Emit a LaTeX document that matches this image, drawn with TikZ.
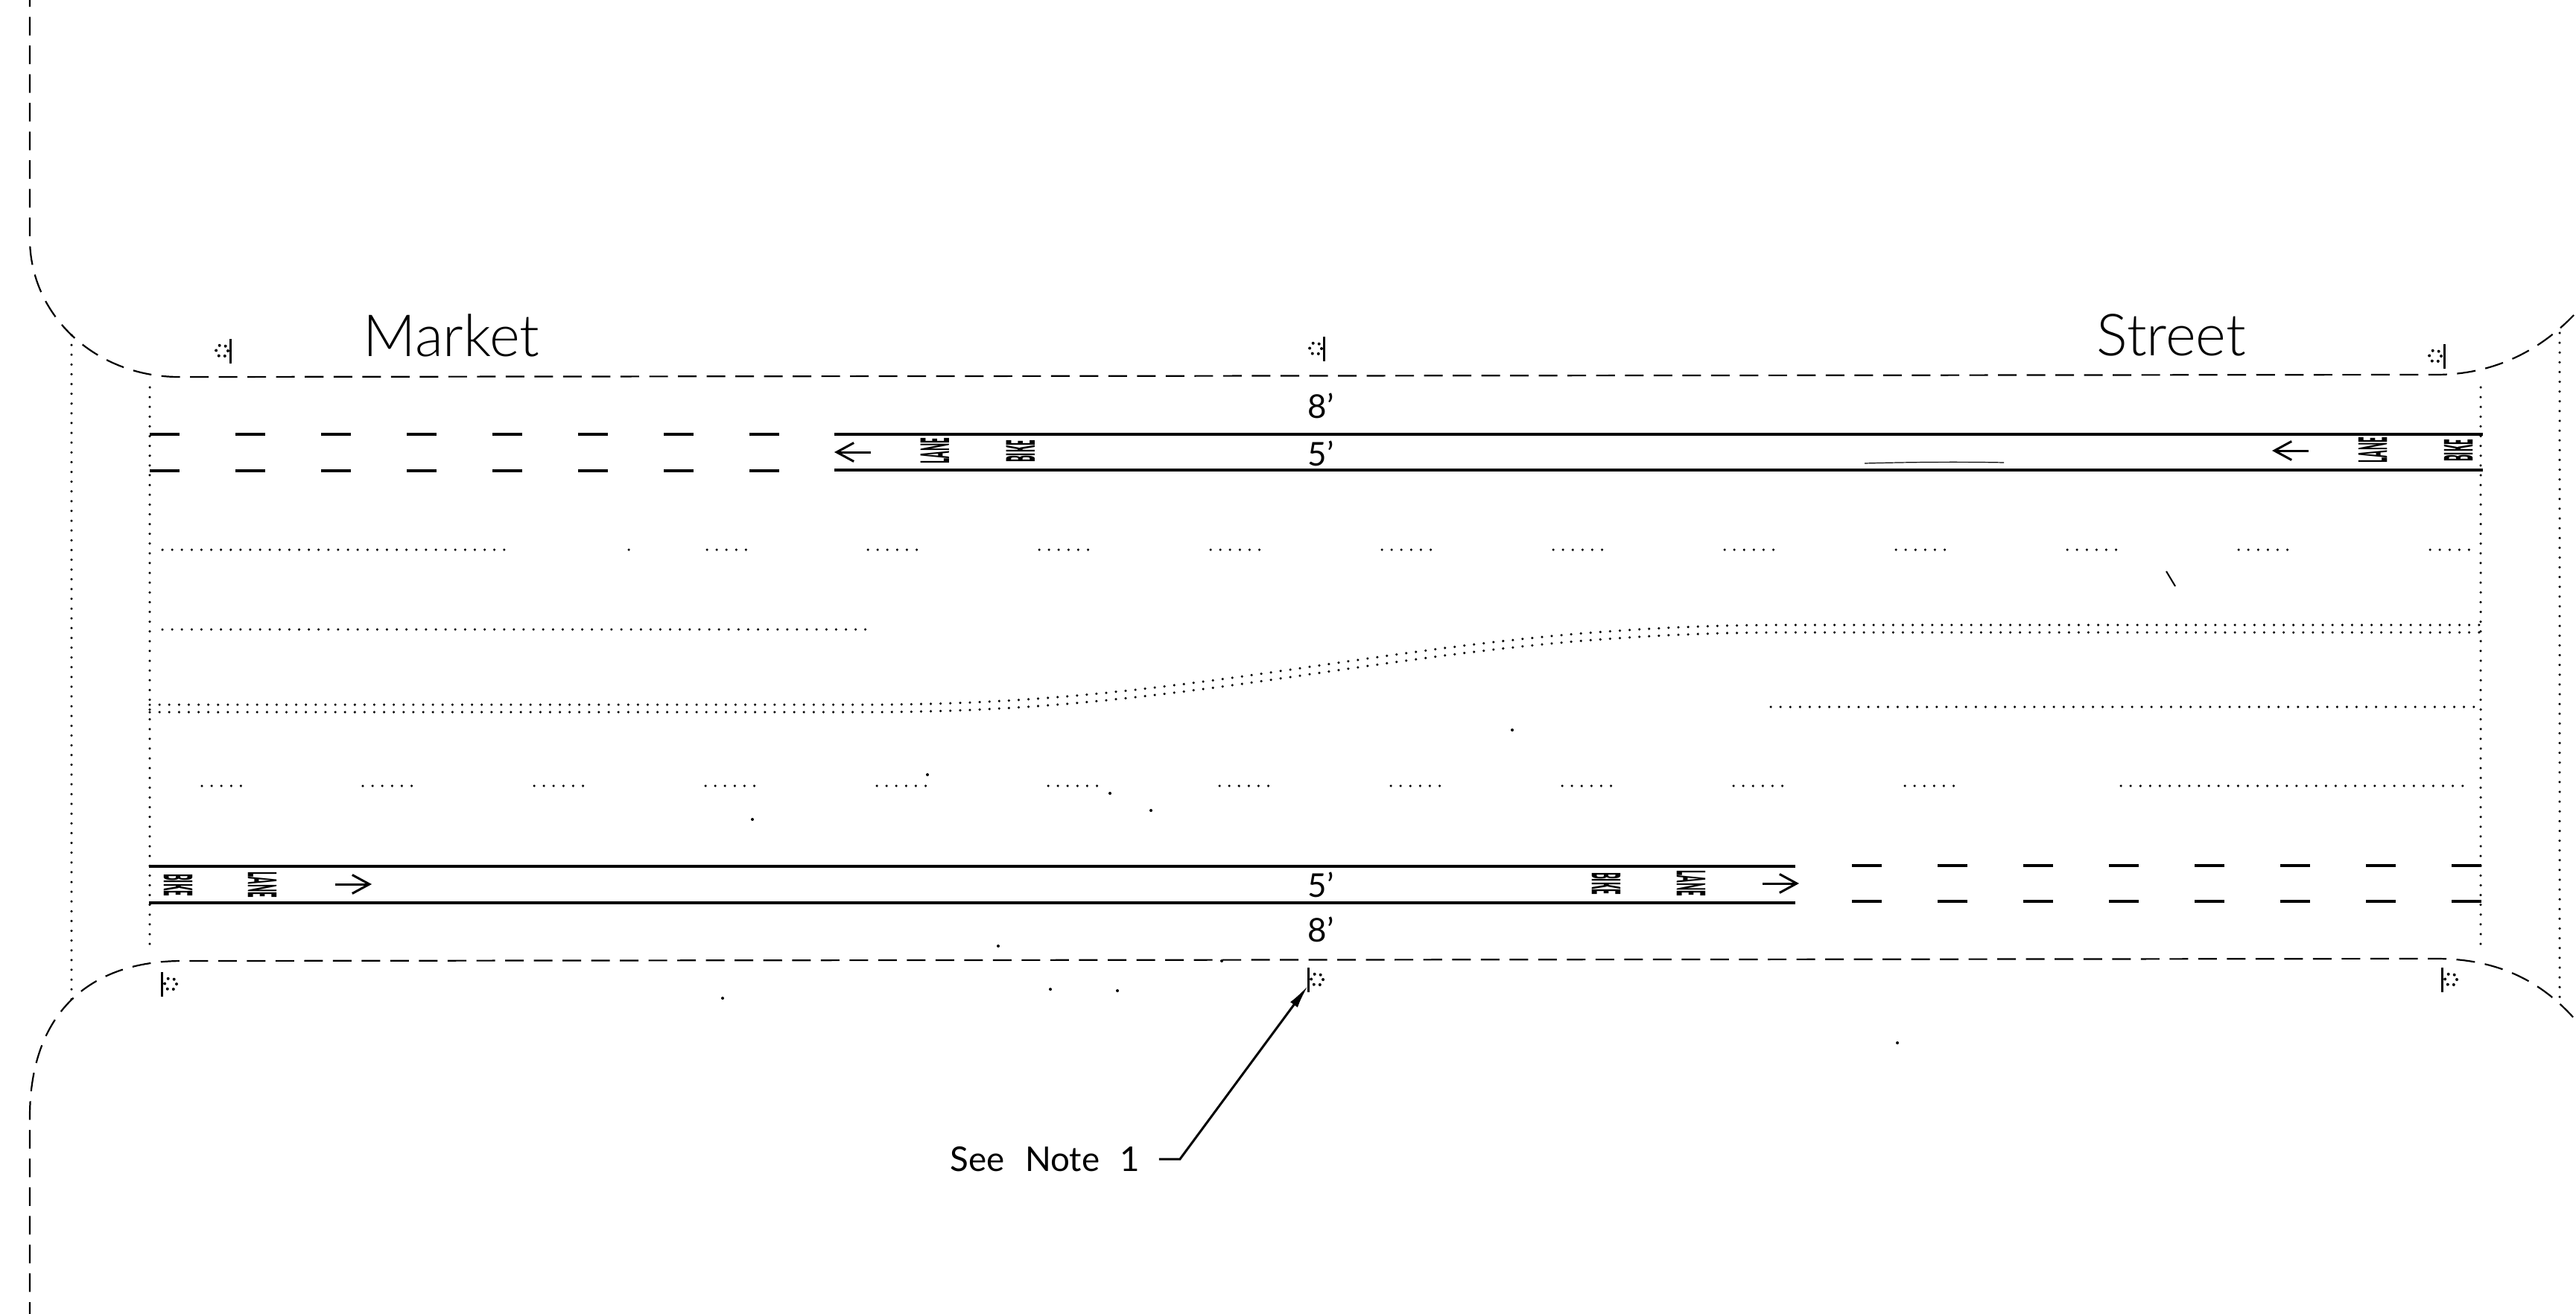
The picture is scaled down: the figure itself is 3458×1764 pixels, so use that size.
\documentclass[tikz,border=0pt]{standalone}
\usepackage{fontspec}
\setmainfont{Lato}[BoldFont=* Black]
\newfontfamily\thinfont{Lato}[UprightFont=* Light]
\usetikzlibrary{arrows.meta}

\tikzset{
	curbline/.style = {line width=0.022cm, dash pattern=on 0.25cm off 0.135cm},
	dotline/.style = {line width=0.035cm, line cap=round, dash pattern=on 0pt off 0.131cm},
	stripe/.style = {line width=0.04cm},
	polebar/.style = {line width=0.03cm},
	poledots/.style = {line width=0.04cm, line cap=round, dash pattern=on 0pt off 0.085cm},
	lanearrow/.style = {line width=0.03cm, -{Straight Barb[length=0.23cm,width=0.25cm]}},
	streetname/.style = {inner sep=0pt, font=\thinfont\fontsize{22.2}{24}\selectfont},
	widthlabel/.style = {inner sep=0pt, font=\fontsize{12.5}{14}\selectfont},
	notelabel/.style = {inner sep=0pt, font=\fontsize{13}{15}\selectfont},
	legend/.style = {inner sep=0pt, font=\bfseries\fontsize{15}{16}\selectfont}
}
\newcommand{\squeezed}[1]{\scalebox{0.25}[1]{#1}}

\begin{document}
\begin{tikzpicture}[x=0.01cm, y=-0.01cm]

	\useasboundingbox (0,0) rectangle (3458,1764);

	% curb returns
	\draw[curbline] (40,-16) -- (40,320) .. controls (40,425) and (130,506) .. (240,506) -- (3270,503) .. controls (3360,503) and (3420,460) .. (3458,420);
	\draw[curbline] (40,1773) -- (40,1500) .. controls (40,1360) and (120,1290) .. (245,1290) -- (3270,1287) .. controls (3350,1287) and (3410,1315) .. (3458,1370);

	% crosswalk edges
	\draw[dotline] (96,450) -- (96,1347);
	\draw[dotline] (201,520) -- (201,1273);
	\draw[dotline] (3330,520) -- (3330,1273);
	\draw[dotline] (3436,447) -- (3436,1343);

	% bike lanes
	\draw[stripe] (1120,583) -- (3333,583);
	\draw[stripe] (1120,631) -- (3333,631);
	\draw[stripe] (200,1163) -- (2410,1163);
	\draw[stripe] (200,1212) -- (2410,1212);
	\foreach \x in {201,316,431,546,661,776,891,1006}{
		\draw[stripe] (\x,583) -- ++(40,0);
		\draw[stripe] (\x,632) -- ++(40,0);
	}
	\foreach \x in {2486,2601,2716,2831,2946,3061,3176,3291}{
		\draw[stripe] (\x,1162) -- ++(40,0);
		\draw[stripe] (\x,1210) -- ++(40,0);
	}

	% lane lines
	\draw[dotline] (218,738) -- (681,738);
	\draw[dotline] (844,738) -- (845,738);
	\draw[dotline] (949,738) -- (1004,738);
	\foreach \x in {1165,1395,1625,1855,2085,2315,2545,2775,3005}{
		\draw[dotline] (\x,738) -- ++(72,0);
	}
	\draw[dotline] (3262,738) -- (3320,738);
	\draw[dotline] (218,845) -- (1162,845);
	\foreach \dy in {-5,5}{
		\draw[dotline] (201,951+\dy) -- (1165,951+\dy) .. controls (1650,951+\dy) and (1900,844+\dy) .. (2400,844+\dy) -- (3330,844+\dy);
	}
	\draw[dotline] (2377,949) -- (3330,949);
	\draw[dotline] (271,1055) -- (333,1055);
	\foreach \x in {487,717,947,1177,1407,1637,1867,2097,2327,2557}{
		\draw[dotline] (\x,1055) -- ++(72,0);
	}
	\draw[dotline] (2847,1055) -- (3314,1055);

	% poles
	\foreach \bx/\cx/\ty in {309/298/455, 1777/1766/452, 3281/3269/462, 217/229/1305, 1756/1768/1299, 3278/3290/1299}{
		\draw[polebar] (\bx,\ty) -- (\bx,\ty+33);
		\draw[poledots] (\cx,\ty+16) circle[radius=8];
	}

	% street names and widths
	\node[streetname] (market) at (606,450) {Market};
	\node[streetname] (street) at (2915,450) {Street};
	\node[widthlabel] (topbuffer) at (1773,545) {8'};
	\node[widthlabel] (toplane) at (1773,609) {5'};
	\node[widthlabel] (botlane) at (1773,1188) {5'};
	\node[widthlabel] (botbuffer) at (1773,1248) {8'};

	% pavement legends
	\foreach \nm/\word/\x/\y/\ang in {
		lanea/LANE/1255/605/90, bikea/BIKE/1370/606/90,
		laneb/LANE/3185/604/90, bikeb/BIKE/3300/605/90,
		bikec/BIKE/239/1188/-90, lanec/LANE/352/1188/-90,
		biked/BIKE/2156/1186/-90, laned/LANE/2270/1186/-90}{
		\node[legend, rotate=\ang] (\nm) at (\x,\y) {\squeezed{\word}};
	}
	\draw[lanearrow] (1169,607) -- (1120,607);
	\draw[lanearrow] (3099,605) -- (3050,605);
	\draw[lanearrow] (450,1187) -- (499,1187);
	\draw[lanearrow] (2366,1186) -- (2415,1186);

	% leader
	\node[notelabel] (seenote) at (1403,1556) {\spaceskip=0.6em See Note 1};
	\coordinate (leaderbend) at (1584,1556);
	\coordinate (poletip) at (1756,1323);
	\draw[line width=0.03cm, shorten <=0.25cm, -{Latex[length=0.32cm,width=0.12cm]}] (seenote.east) -- (leaderbend) -- (poletip);

	% scan specks
	\foreach \x/\y in {1245/1040, 1490/1065, 1545/1088, 1410/1328, 1500/1330, 970/1340, 2547/1400, 1340/1270, 1010/1100, 2030/980, 1640/1290}{
		\fill (\x,\y) circle[radius=2];
	}
	\draw[line width=0.012cm] (2503,622) .. controls (2580,620) and (2640,620) .. (2690,621);
	\draw[line width=0.02cm] (2908,767) -- (2920,787);

\end{tikzpicture}
\end{document}
